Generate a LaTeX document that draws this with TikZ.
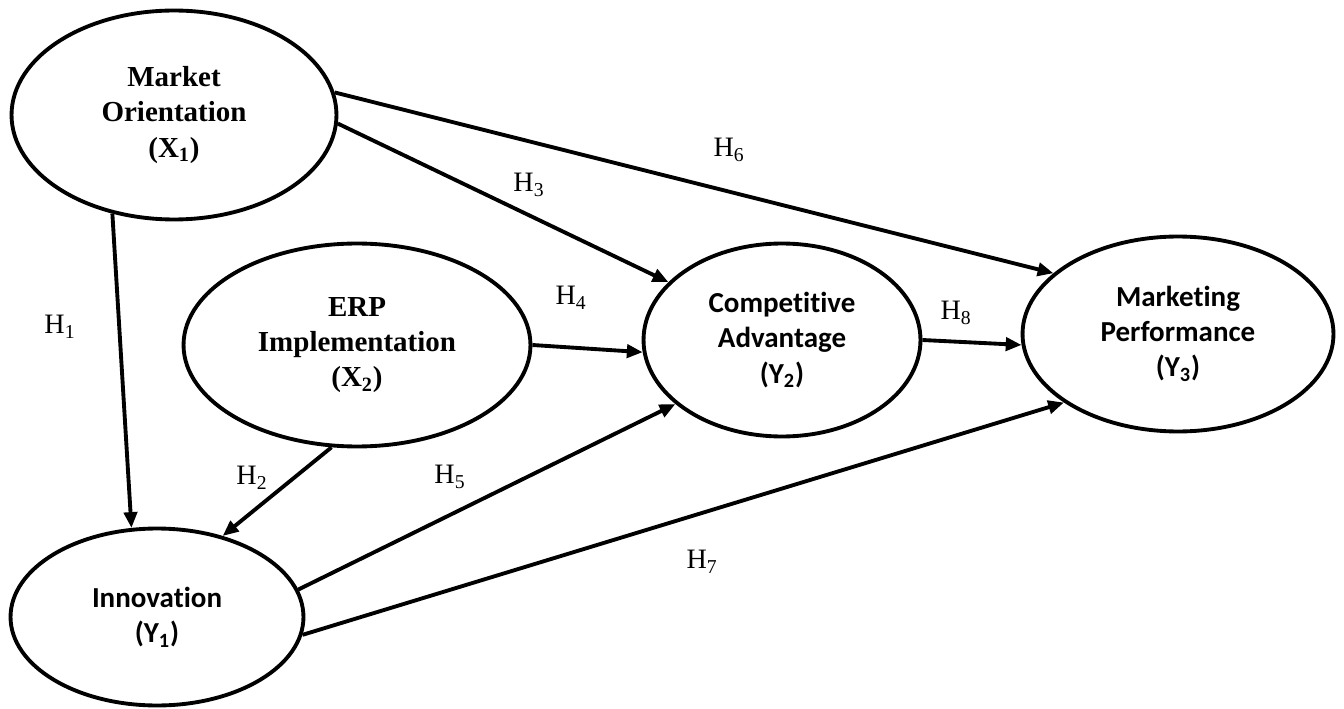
\documentclass[tikz,border=0pt]{standalone}
\usepackage{fontspec}
\setmainfont{Liberation Serif}
\newfontfamily\calib[Ligatures=NoCommon]{Carlito}
\usetikzlibrary{shapes.geometric,arrows.meta}
\begin{document}
\begin{tikzpicture}[x=0.02cm,y=-0.02cm,
  latent/.style={draw, ellipse, line width=2.2pt, inner sep=0pt, align=center},
  timesb/.style={font=\fontsize{16.5}{20}\selectfont\bfseries},
  calb/.style={font=\calib\fontsize{16.5}{20}\selectfont\bfseries},
  arr/.style={line width=2.2pt, -{Triangle[length=9pt,width=7.5pt]}},
  hlab/.style={font=\fontsize{16}{18}\selectfont, inner sep=0pt}]
\useasboundingbox (0,0) rectangle (1344,709);

\node[latent, timesb, minimum width=6.5cm, minimum height=4.18cm] (mo) at (174,115) {Market\\Orientation\\(X\textsubscript{1})};
\node[latent, timesb, minimum width=6.94cm, minimum height=4.06cm] (erp) at (357,345) {ERP\\Implementation\\(X\textsubscript{2})};
\node[latent, calb, minimum width=5.54cm, minimum height=3.86cm] (ca) at (782,340) {Competitive\\Advantage\\(Y\textsubscript{2})};
\node[latent, calb, minimum width=6.22cm, minimum height=3.9cm] (mp) at (1178,334) {Marketing\\Performance\\(Y\textsubscript{3})};
\node[latent, calb, minimum width=5.86cm, minimum height=3.54cm] (inn) at (157,617) {Innovation\\(Y\textsubscript{1})};

\draw[arr] (mo.-122.5) -- (inn.106.7);
\draw[arr] (erp.-104.7) -- (inn.51.6);
\draw[arr] (mo.-3.5) -- (ca.153.6);
\draw[arr] (erp.0) -- (ca.185.3);
\draw[arr] (inn.11.8) -- (ca.211);
\draw[arr] (mo.8.2) -- (mp.154.5);
\draw[arr] (inn.-7.8) -- (mp.211);
\draw[arr] (ca.0) -- (mp.184.6);

\node[hlab] (h1) at (60,327) {H\textsubscript{1}};
\node[hlab] (h2) at (252,478) {H\textsubscript{2}};
\node[hlab] (h3) at (529,185) {H\textsubscript{3}};
\node[hlab] (h4) at (571,298) {H\textsubscript{4}};
\node[hlab] (h5) at (450,477) {H\textsubscript{5}};
\node[hlab] (h6) at (729,150) {H\textsubscript{6}};
\node[hlab] (h7) at (702,562) {H\textsubscript{7}};
\node[hlab] (h8) at (956,313) {H\textsubscript{8}};
\end{tikzpicture}
\end{document}
